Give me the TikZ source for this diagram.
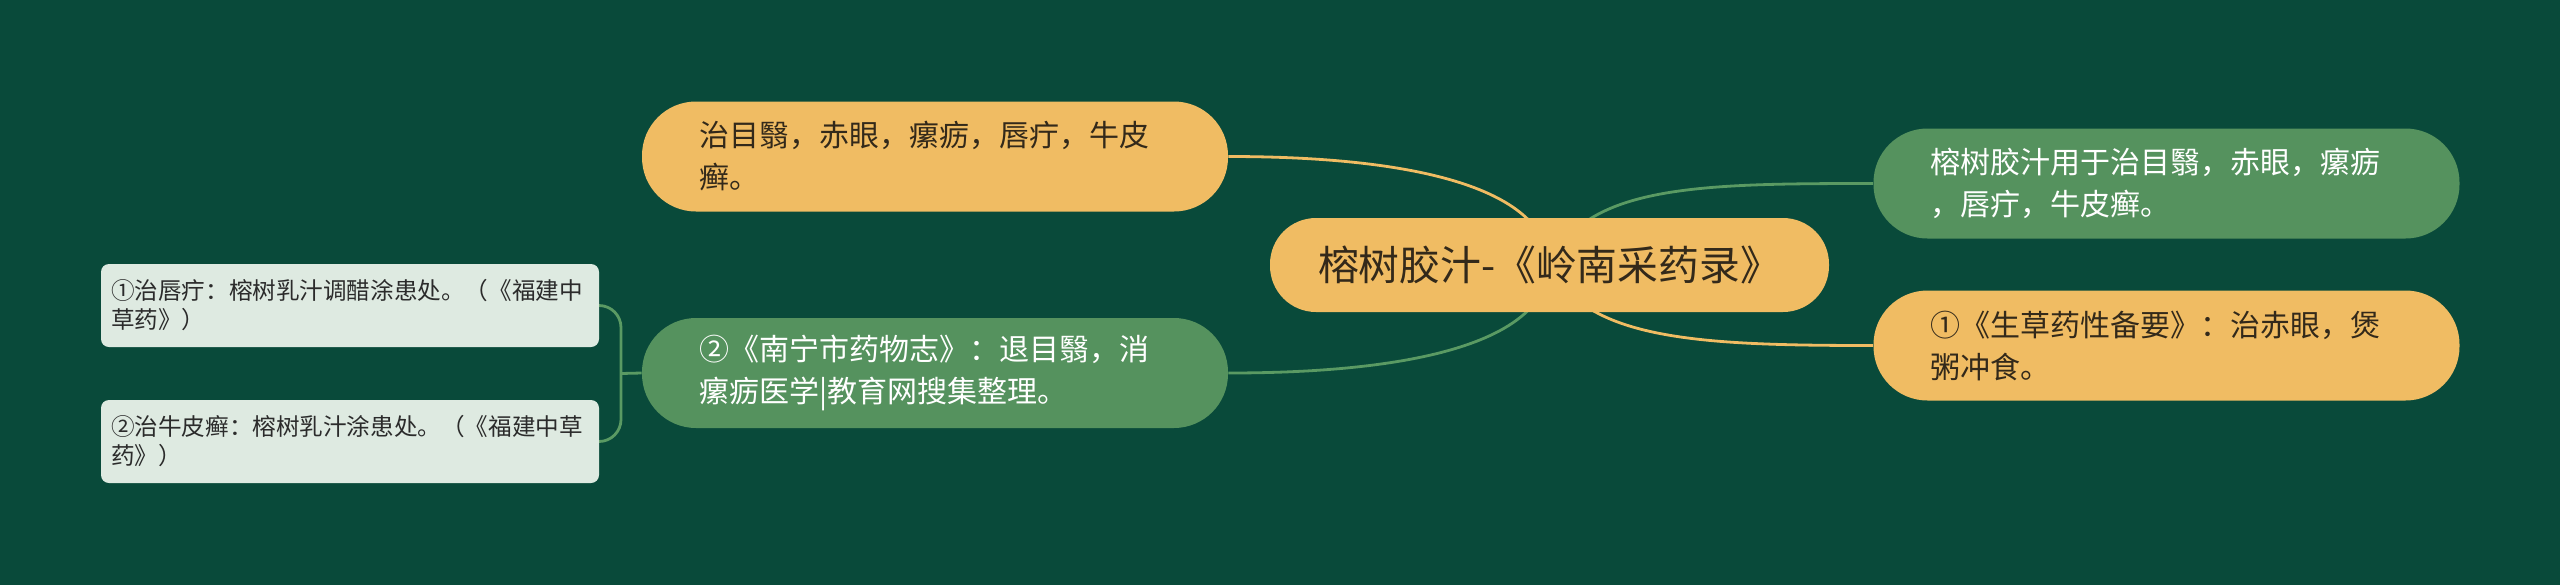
\documentclass[tikz,border=0pt]{standalone}
\usepackage{fontspec}
\setmainfont{Noto Sans CJK SC}
\definecolor{bgc}{HTML}{094A3A}
\definecolor{org}{HTML}{F0BC63}
\definecolor{grn}{HTML}{55925E}
\definecolor{grnline}{HTML}{5A9A63}
\definecolor{lgt}{HTML}{DEEAE1}
\definecolor{dtxt}{HTML}{33291A}
\definecolor{ltxt}{HTML}{2B2B2B}
\pgfdeclarelayer{back}
\pgfdeclarelayer{lines}
\pgfsetlayers{back,lines,main}
\tikzset{
  rootnode/.style={fill=org, text=dtxt, rounded corners=23pt, minimum width=279.5pt, minimum height=47pt, inner sep=0pt, font=\fontsize{20.4}{24}\selectfont},
  lvbase/.style={rounded corners=27pt, minimum height=55pt, text width=236pt, inner xsep=28.5pt, inner ysep=0pt, align=left, font=\fontsize{15}{21}\selectfont},
  lvorange/.style={lvbase, fill=org, text=dtxt},
  lvgreen/.style={lvbase, fill=grn, text=white},
  leafnode/.style={fill=lgt, text=ltxt, rounded corners=4pt, minimum height=41.5pt, text width=239pt, inner xsep=5pt, inner ysep=0pt, align=left, font=\fontsize{11.8}{14.5}\selectfont},
  olink/.style={draw=org, line width=1.4pt},
  glink/.style={draw=grnline, line width=1.4pt},
}
\begin{document}
\begin{tikzpicture}[x=0.5pt,y=-0.5pt]
\begin{pgfonlayer}{back}
\fill[bgc] (0,0) rectangle (2560,585);
\end{pgfonlayer}
\useasboundingbox (0,0) rectangle (2560,585);

\node[rootnode] (root) at (1549.5,265) {榕树胶汁-《岭南采药录》};
\node[lvorange] (tl) at (935,156.5) {治目翳，赤眼，瘰疬，唇疔，牛皮\\癣。};
\node[lvgreen] (lg) at (935,373) {②《南宁市药物志》：退目翳，消\\瘰疬医学|教育网搜集整理。};
\node[lvgreen] (rt) at (2166.5,183.5) {榕树胶汁用于治目翳，赤眼，瘰疬\\，唇疔，牛皮癣。};
\node[lvorange] (rb) at (2166.5,345.5) {①《生草药性备要》：治赤眼，煲\\粥冲食。};
\node[leafnode] (b1) at (350,305.5) {①治唇疔：榕树乳汁调醋涂患处。（《福建中\\草药》）};
\node[leafnode] (b2) at (350,441.5) {②治牛皮癣：榕树乳汁涂患处。（《福建中草\\药》）};
\coordinate (j) at (621,373.5);

\begin{pgfonlayer}{lines}
\draw[olink] (root.center) .. controls +(-4,-75) and +(193,0) .. (tl.east);
\draw[glink] (root.center) .. controls +(-4,75) and +(193,0) .. (lg.east);
\draw[glink] (root.center) .. controls +(36,-80) and +(-175,0) .. (rt.west);
\draw[olink] (root.center) .. controls +(36,75) and +(-175,0) .. (rb.west);
\draw[glink] (lg.west) -- (j);
\draw[glink, rounded corners=11pt] (b1.east) -| (j) |- (b2.east);
\end{pgfonlayer}
\end{tikzpicture}
\end{document}
